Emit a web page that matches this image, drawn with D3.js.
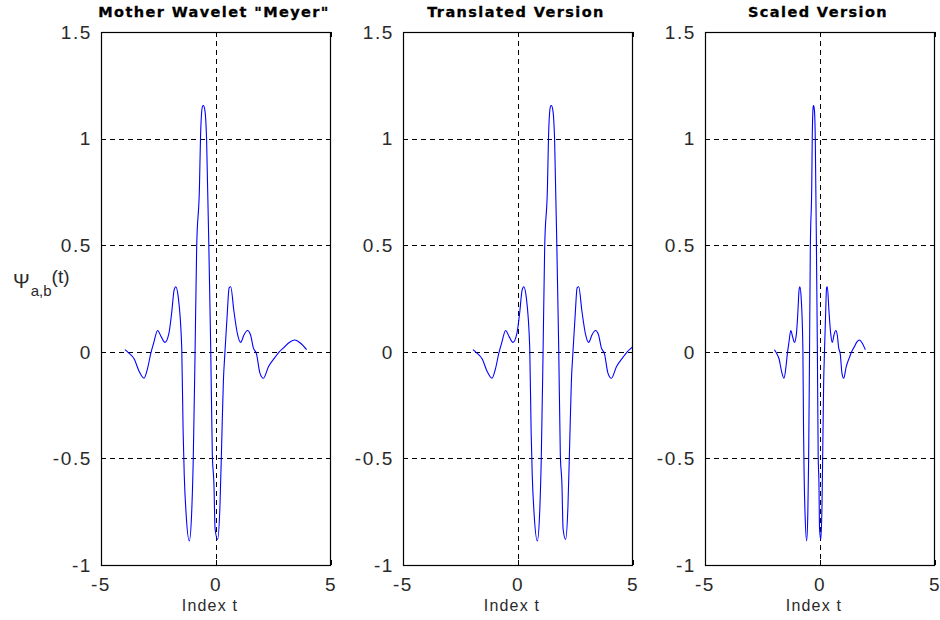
<!DOCTYPE html>
<html>
<head>
<meta charset="utf-8">
<script src="https://cdn.jsdelivr.net/npm/d3@7"></script>
<style>
  html, body { margin: 0; padding: 0; background: #fff; }
  svg { display: block; }
  .tick-label { font-family: "Liberation Sans", Arial, sans-serif; font-size: 19px; letter-spacing: 1.6px; fill: #2a2a2a; }
  .panel-title { font-family: "DejaVu Sans", sans-serif; font-weight: bold; font-size: 14.5px; letter-spacing: 1.4px; fill: #000; stroke: #000; stroke-width: 0.3px; }
  .x-label { font-family: "Liberation Sans", Arial, sans-serif; font-size: 16px; letter-spacing: 1.2px; fill: #2a2a2a; }
  .y-label { font-family: "Liberation Sans", Arial, sans-serif; fill: #2a2a2a; }
</style>
</head>
<body>
<svg id="chart" width="940" height="620"></svg>
<script>
// Panel titles and axis ticks
const panelTitles = ['Mother Wavelet "Meyer"', "Translated Version", "Scaled Version"];
const xTicks = [-5, 0, 5];
const xTickLabels = ["-5", "0", "5"];
const yTicks = [-1, -0.5, 0, 0.5, 1, 1.5];
const yTickLabels = ["-1", "-0.5", "0", "0.5", "1", "1.5"];
const xLabelText = "Index t";

// Sampled wavelet amplitude psi (shared by all three panels)
const psiValues = [
  0.010, -0.005, -0.035, -0.090, -0.124, -0.080, -0.010, 0.045, 0.100, 0.070,
  0.044, 0.085, 0.180, 0.290, 0.305, 0.255, 0.020, -0.370, -0.580, -0.760,
  -0.887, -0.760, -0.510, 0.000, 0.490, 0.770, 1.020, 1.150, 1.155, 1.130,
  1.000, 0.370, 0.020, -0.480, -0.620, -0.830, -0.880, -0.730, -0.420, -0.140,
  0.000, 0.180, 0.300, 0.305, 0.190, 0.085, 0.044, 0.080, 0.100, 0.080,
  0.020, -0.010, -0.100, -0.124, -0.070, -0.025, 0.000, 0.020, 0.045, 0.055,
  0.040, 0.010
];

// Time axis of the mother wavelet
const tMother = [
  -3.96, -3.80, -3.55, -3.35, -3.13, -2.98, -2.84, -2.70, -2.54, -2.38,
  -2.22, -2.05, -1.93, -1.82, -1.75, -1.64, -1.49, -1.43, -1.38, -1.30,
  -1.16, -1.06, -0.99, -0.91, -0.84, -0.72, -0.67, -0.59, -0.55, -0.48,
  -0.41, -0.29, -0.23, -0.16, -0.09, -0.04, 0.07, 0.17, 0.25, 0.32,
  0.39, 0.49, 0.57, 0.64, 0.78, 0.93, 1.07, 1.22, 1.37, 1.50,
  1.62, 1.76, 1.91, 2.06, 2.28, 2.57, 2.75, 2.95, 3.20, 3.43,
  3.68, 3.94
];

// Time axis of the translated wavelet (b = 2)
const tTranslated = [
  -1.96, -1.80, -1.55, -1.35, -1.13, -0.98, -0.84, -0.70, -0.54, -0.38,
  -0.22, -0.05, 0.07, 0.18, 0.25, 0.36, 0.51, 0.57, 0.62, 0.70,
  0.84, 0.94, 1.01, 1.09, 1.16, 1.28, 1.33, 1.41, 1.45, 1.52,
  1.59, 1.71, 1.77, 1.84, 1.91, 1.96, 2.07, 2.17, 2.25, 2.32,
  2.39, 2.49, 2.57, 2.64, 2.78, 2.93, 3.07, 3.22, 3.37, 3.50,
  3.62, 3.76, 3.91, 4.06, 4.28, 4.57, 4.75, 4.95, 5.20, 5.43,
  5.68, 5.94
];

// Time axis of the scaled wavelet (a = 0.5)
const tScaled = [
  -1.98, -1.90, -1.775, -1.675, -1.565, -1.49, -1.42, -1.35, -1.27, -1.19,
  -1.11, -1.025, -0.965, -0.91, -0.875, -0.82, -0.745, -0.715, -0.69, -0.65,
  -0.58, -0.53, -0.495, -0.455, -0.42, -0.36, -0.335, -0.295, -0.275, -0.24,
  -0.205, -0.145, -0.115, -0.08, -0.045, -0.02, 0.035, 0.085, 0.125, 0.16,
  0.195, 0.245, 0.285, 0.32, 0.39, 0.465, 0.535, 0.61, 0.685, 0.75,
  0.81, 0.88, 0.955, 1.03, 1.14, 1.285, 1.375, 1.475, 1.60, 1.715,
  1.84, 1.97
];

const panelTimes = [tMother, tTranslated, tScaled];

// Layout
const svg = d3.select("#chart");
const plotTop = 32, plotBottom = 565;
const plotWidth = 230, panelStep = 302, firstLeft = 101;
const tickLen = 5;

const y = d3.scaleLinear().domain([-1, 1.5]).range([plotBottom, plotTop]);

panelTimes.forEach((times, k) => {
  const left = firstLeft + k * panelStep;
  const right = left + plotWidth;
  const x = d3.scaleLinear().domain([-5, 5]).range([left, right]);
  const g = svg.append("g");

  const clipId = "clip" + k;
  svg.append("clipPath").attr("id", clipId)
    .append("rect").attr("x", left).attr("y", plotTop)
    .attr("width", plotWidth).attr("height", plotBottom - plotTop);

  // dashed grid at interior ticks
  const gridY = yTicks.filter(v => v > -1 && v < 1.5);
  g.selectAll(".gy").data(gridY).join("line")
    .attr("x1", left).attr("x2", right)
    .attr("y1", d => Math.round(y(d)) + 0.5).attr("y2", d => Math.round(y(d)) + 0.5)
    .attr("stroke", "#000").attr("stroke-width", 1).attr("stroke-dasharray", "5,4");
  const gridX = xTicks.filter(v => v > -5 && v < 5);
  g.selectAll(".gx").data(gridX).join("line")
    .attr("x1", d => Math.round(x(d)) + 0.5).attr("x2", d => Math.round(x(d)) + 0.5)
    .attr("y1", plotTop).attr("y2", plotBottom)
    .attr("stroke", "#000").attr("stroke-width", 1).attr("stroke-dasharray", "5,4");

  // wavelet trace
  const pts = times.map((t, i) => [t, psiValues[i]]);
  const line = d3.line().x(d => x(d[0])).y(d => y(d[1])).curve(d3.curveMonotoneX);
  g.append("path").datum(pts)
    .attr("clip-path", `url(#${clipId})`)
    .attr("d", line).attr("fill", "none")
    .attr("stroke", "#0000ff").attr("stroke-width", 1.1);

  // axes box
  g.append("rect")
    .attr("x", left + 0.5).attr("y", plotTop + 0.5)
    .attr("width", plotWidth - 1).attr("height", plotBottom - plotTop)
    .attr("fill", "none").attr("stroke", "#000").attr("stroke-width", 1.2);

  // inward ticks
  yTicks.forEach(v => {
    const yy = Math.round(y(v)) + 0.5;
    g.append("line").attr("x1", left).attr("x2", left + tickLen).attr("y1", yy).attr("y2", yy).attr("stroke", "#000");
    g.append("line").attr("x1", right - tickLen).attr("x2", right).attr("y1", yy).attr("y2", yy).attr("stroke", "#000");
  });
  xTicks.forEach(v => {
    const xx = Math.round(x(v)) + 0.5;
    g.append("line").attr("x1", xx).attr("x2", xx).attr("y1", plotBottom).attr("y2", plotBottom - tickLen).attr("stroke", "#000");
    g.append("line").attr("x1", xx).attr("x2", xx).attr("y1", plotTop).attr("y2", plotTop + tickLen).attr("stroke", "#000");
  });

  // tick labels
  g.selectAll(".yl").data(yTicks).join("text")
    .attr("class", "tick-label")
    .attr("x", left - 9).attr("y", d => y(d)).attr("dy", "0.36em")
    .attr("text-anchor", "end")
    .text((d, i) => yTickLabels[i]);
  g.selectAll(".xl").data(xTicks).join("text")
    .attr("class", "tick-label")
    .attr("x", d => x(d)).attr("y", plotBottom + 26)
    .attr("text-anchor", "middle")
    .text((d, i) => xTickLabels[i]);

  // title and x label
  g.append("text").attr("class", "panel-title")
    .attr("x", (left + right) / 2 - 2).attr("y", plotTop - 15)
    .attr("text-anchor", "middle").text(panelTitles[k]);
  g.append("text").attr("class", "x-label")
    .attr("x", (left + right) / 2 - 6).attr("y", plotBottom + 46)
    .attr("text-anchor", "middle").text(xLabelText);
});

// y-axis label: Psi with subscript a,b
const yl = svg.append("text").attr("class", "y-label").attr("x", 13).attr("y", 288);
yl.append("tspan").attr("font-size", "20px").text("Ψ");
yl.append("tspan").attr("font-size", "15px").attr("dy", 8).attr("dx", 1).text("a,b");
yl.append("tspan").attr("font-size", "19px").attr("dy", -13).text("(t)");
</script>
</body>
</html>
